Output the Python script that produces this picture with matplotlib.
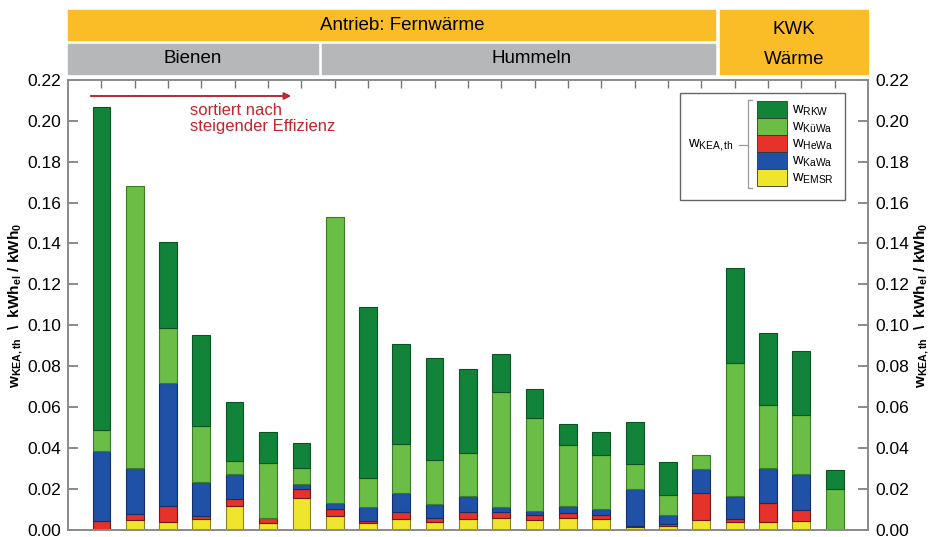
import numpy as np
import matplotlib
matplotlib.use("Agg")
import matplotlib.pyplot as plt
from matplotlib.patches import Rectangle, FancyArrowPatch
from matplotlib.lines import Line2D

plt.rcParams['font.family'] = ['Liberation Sans', 'DejaVu Sans']
plt.rcParams['mathtext.fontset'] = 'custom'
plt.rcParams['mathtext.rm'] = 'Liberation Sans'
plt.rcParams['mathtext.bf'] = 'Liberation Sans:bold'
plt.rcParams['mathtext.it'] = 'Liberation Sans'

# ---- data (23 bars, sorted by increasing efficiency) ----
groups = ["Bienen"] * 7 + ["Hummeln"] * 12 + ["KWK Wärme"] * 4
w_emsr = [0.0000, 0.0045, 0.0038, 0.0050, 0.0113, 0.0033, 0.0156,
          0.0068, 0.0030, 0.0051, 0.0038, 0.0053, 0.0058, 0.0045, 0.0058, 0.0050, 0.0012, 0.0017, 0.0045,
          0.0038, 0.0038, 0.0042, 0.0000]
w_hewa = [0.0044, 0.0030, 0.0078, 0.0016, 0.0038, 0.0022, 0.0042,
          0.0032, 0.0013, 0.0036, 0.0017, 0.0031, 0.0026, 0.0024, 0.0021, 0.0021, 0.0005, 0.0008, 0.0132,
          0.0012, 0.0093, 0.0053, 0.0000]
w_kawa = [0.0342, 0.0228, 0.0602, 0.0166, 0.0119, 0.0000, 0.0024,
          0.0030, 0.0069, 0.0090, 0.0068, 0.0081, 0.0024, 0.0020, 0.0037, 0.0028, 0.0180, 0.0046, 0.0120,
          0.0115, 0.0171, 0.0178, 0.0000]
w_kuewa = [0.0100, 0.1380, 0.0270, 0.0274, 0.0065, 0.0272, 0.0077,
           0.1400, 0.0138, 0.0243, 0.0215, 0.0209, 0.0564, 0.0455, 0.0299, 0.0267, 0.0122, 0.0096, 0.0069,
           0.0649, 0.0307, 0.0287, 0.0197]
w_rkw = [0.1580, 0.0000, 0.0420, 0.0444, 0.0287, 0.0151, 0.0124,
         0.0000, 0.0840, 0.0487, 0.0500, 0.0411, 0.0186, 0.0143, 0.0099, 0.0109, 0.0207, 0.0165, 0.0000,
         0.0466, 0.0351, 0.0313, 0.0094]

series = [("EMSR", w_emsr, "#EFE52C", "#8a8420"),
          ("HeWa", w_hewa, "#E5322B", "#6e1a16"),
          ("KaWa", w_kawa, "#1F51A6", "#13306a"),
          ("KüWa", w_kuewa, "#6ABD45", "#3d7a28"),
          ("RKW", w_rkw, "#12843A", "#0b5224")]

W, H = 931, 537
fig = plt.figure(figsize=(W / 100, H / 100), dpi=100)

def fx(px):
    return px / W

def fy(py):
    return 1 - py / H

ax = fig.add_axes([fx(68), fy(529.5), fx(868) - fx(68), fy(80) - fy(529.5)])
x = np.arange(len(groups))
bottom = np.zeros(len(groups))
for name, vals, col, ec in series:
    v = np.array(vals)
    lw = np.where(v > 0, 0.8, 0.0)
    ax.bar(x, v, width=0.53, bottom=bottom, color=col, edgecolor=ec, linewidth=lw, zorder=2)
    bottom += v

ax.set_xlim(-1, len(groups))
ax.set_ylim(0, 0.22)
yt = np.arange(0, 0.2201, 0.02)
ax.set_yticks(yt)
ax.set_yticklabels([f"{t:.2f}" for t in yt])
ax.set_xticks(x)
ax.set_xticklabels([])
ax.tick_params(axis='y', direction='in', length=7, width=1.2, color='#777777',
               labelsize=12.5, left=True, right=True, labelleft=True, labelright=True, pad=5)
ax.tick_params(axis='x', direction='in', length=6, width=1.0, color='#777777',
               top=True, bottom=True, labelbottom=False)
for s in ax.spines.values():
    s.set_color('#8a8a8a')
    s.set_linewidth(1.4)

ylab = r'$\mathbf{w_{KEA,th}\ \ \backslash\ \ kWh_{el}\ /\ kWh_0}$'
fig.text(fx(16), fy(305), ylab, rotation=90, ha='center', va='center', fontsize=11)
fig.text(fx(922), fy(305), ylab, rotation=90, ha='center', va='center', fontsize=11)

# ---- header boxes ----
orange = '#FBBD27'
gray = '#B5B7B9'
fig.patches.append(Rectangle((fx(68), fy(40)), fx(715) - fx(68), fy(10) - fy(40),
                             transform=fig.transFigure, color=orange, zorder=0))
fig.patches.append(Rectangle((fx(68), fy(74)), fx(318) - fx(68), fy(44) - fy(74),
                             transform=fig.transFigure, color=gray, zorder=0))
fig.patches.append(Rectangle((fx(322), fy(74)), fx(715) - fx(322), fy(44) - fy(74),
                             transform=fig.transFigure, color=gray, zorder=0))
fig.patches.append(Rectangle((fx(720), fy(74)), fx(868) - fx(720), fy(10) - fy(74),
                             transform=fig.transFigure, color=orange, zorder=0))
hs = 13.5
fig.text(fx(402), fy(25), "Antrieb: Fernwärme", ha='center', va='center', fontsize=hs)
fig.text(fx(193), fy(59), "Bienen", ha='center', va='center', fontsize=hs)
fig.text(fx(532), fy(59), "Hummeln", ha='center', va='center', fontsize=hs)
fig.text(fx(794), fy(29), "KWK", ha='center', va='center', fontsize=hs)
fig.text(fx(794), fy(60), "Wärme", ha='center', va='center', fontsize=hs)

# ---- annotation arrow ----
arr = FancyArrowPatch((fx(88), fy(96)), (fx(294), fy(96)), transform=fig.transFigure,
                      arrowstyle='-|>', mutation_scale=10, color='#B52A2E', lw=1.4)
fig.patches.append(arr)
fig.text(fx(190), fy(103), "sortiert nach\nsteigender Effizienz", ha='left', va='top',
         fontsize=12, color='#C8232B', linespacing=1.1)

# ---- legend (manual) ----
fig.patches.append(Rectangle((fx(680), fy(200)), fx(845) - fx(680), fy(93) - fy(200),
                             transform=fig.transFigure, facecolor='white', edgecolor='#666666',
                             lw=1.0, zorder=3))
leg_items = [("RKW", "#12843A"), ("KüWa", "#6ABD45"), ("HeWa", "#E5322B"),
             ("KaWa", "#1F51A6"), ("EMSR", "#EFE52C")]
y0 = 101
hh = 17
for i, (nm, col) in enumerate(leg_items):
    top = y0 + i * hh
    fig.patches.append(Rectangle((fx(757), fy(top + hh)), fx(787) - fx(757), fy(top) - fy(top + hh),
                                 transform=fig.transFigure, facecolor=col, edgecolor='#333333',
                                 lw=0.6, zorder=4))
    fig.text(fx(792), fy(top + hh / 2 + 1), r'w$_{\mathrm{' + nm + '}}$', ha='left', va='center',
             fontsize=10.5, zorder=5)
fig.text(fx(688), fy(145), r'w$_{\mathrm{KEA,th}}$', ha='left', va='center', fontsize=10.5, zorder=5)
# bracket
bx = fx(748)
fig.lines.append(Line2D([fx(752), bx, bx, fx(752)], [fy(100), fy(100), fy(188), fy(188)],
                        transform=fig.transFigure, color='#999999', lw=0.9, zorder=5))
fig.lines.append(Line2D([fx(739), bx], [fy(145), fy(145)],
                        transform=fig.transFigure, color='#999999', lw=0.9, zorder=5))

fig.savefig("out.png", dpi=100)
